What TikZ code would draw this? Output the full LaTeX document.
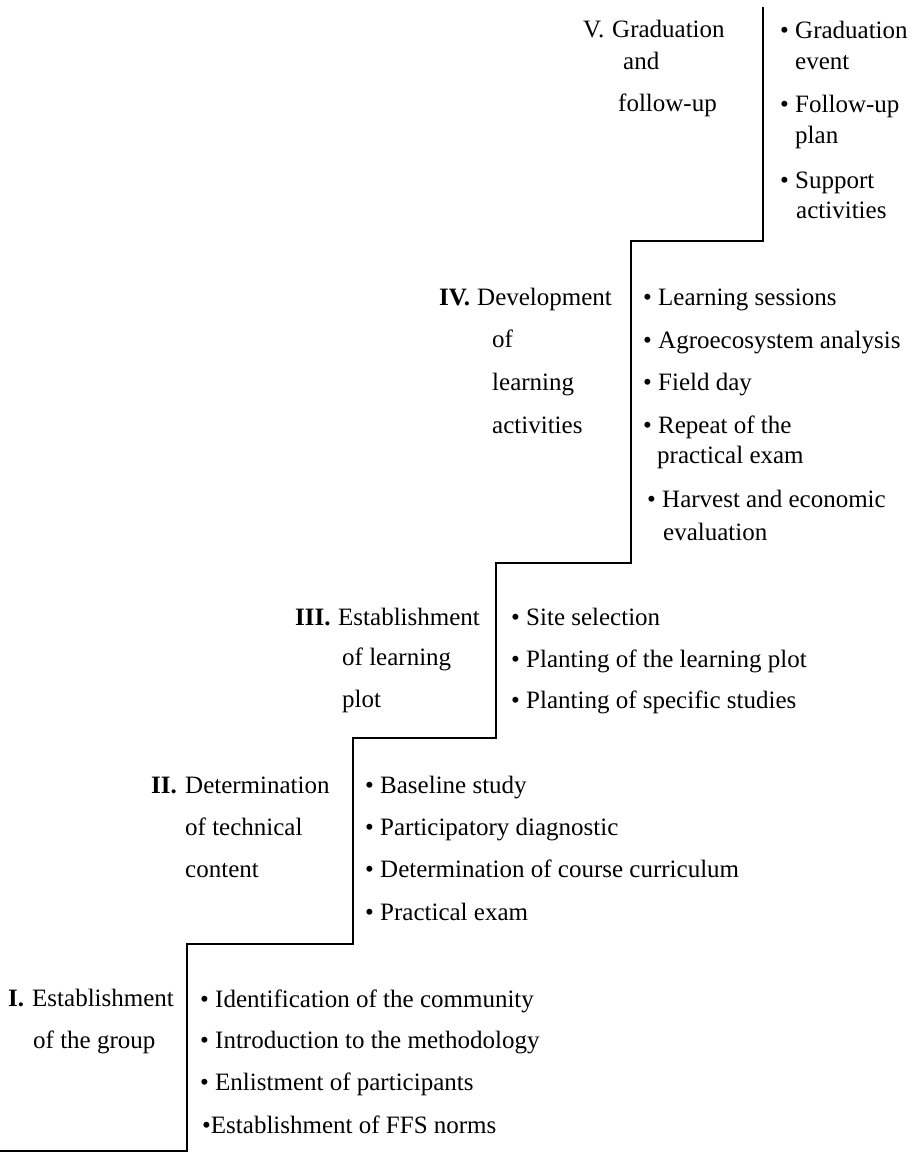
\documentclass[tikz,border=0pt]{standalone}
\usepackage{fontspec}
\setmainfont{Liberation Serif}
\begin{document}
\begin{tikzpicture}[x=1pt,y=-1pt,
  txt/.style={inner sep=0pt,anchor=base west,font=\fontsize{25}{30}\selectfont},
  num/.style={txt,font=\fontsize{25}{30}\selectfont\bfseries},
  stair/.style={line width=1.9pt,line join=miter}]
\useasboundingbox (0,0) rectangle (920,1153);
% staircase
\coordinate (s0) at (0,1151);
\coordinate (s1) at (187,1151);
\coordinate (s2) at (187,944);
\coordinate (s3) at (353,944);
\coordinate (s4) at (353,738);
\coordinate (s5) at (496,738);
\coordinate (s6) at (496,563);
\coordinate (s7) at (631,563);
\coordinate (s8) at (631,241);
\coordinate (s9) at (763,241);
\coordinate (s10) at (763,7);
\draw[stair] (s0) -- (s1) -- (s2) -- (s3) -- (s4) -- (s5) -- (s6) -- (s7) -- (s8) -- (s9) -- (s10);
% Step V
\node[txt] (vn) at (583,38) {V.};
\node[txt] (v1) at (612,38) {Graduation};
\node[txt] (v2) at (623,70) {and};
\node[txt] (v3) at (618,112) {follow-up};
\node[txt] (vb1) at (780,39) {\textbullet\ Graduation};
\node[txt] (vb1b) at (795,70) {event};
\node[txt] (vb2) at (780,113) {\textbullet\ Follow-up};
\node[txt] (vb2b) at (795,143) {plan};
\node[txt] (vb3) at (780,188) {\textbullet\ Support};
\node[txt] (vb3b) at (796,218) {activities};
% Step IV
\node[num] (ivn) at (439,305) {IV.};
\node[txt] (iv1) at (477,305) {Development};
\node[txt] (iv2) at (492,347) {of};
\node[txt] (iv3) at (492,390) {learning};
\node[txt] (iv4) at (492,433) {activities};
\node[txt] (ivb1) at (643,305) {\textbullet\ Learning sessions};
\node[txt] (ivb2) at (643,348) {\textbullet\ Agroecosystem analysis};
\node[txt] (ivb3) at (643,390) {\textbullet\ Field day};
\node[txt] (ivb4) at (643,433) {\textbullet\ Repeat of the};
\node[txt] (ivb4b) at (657,463) {practical exam};
\node[txt] (ivb5) at (647,507) {\textbullet\ Harvest and economic};
\node[txt] (ivb5b) at (663,540) {evaluation};
% Step III
\node[num] (iiin) at (295,625) {III.};
\node[txt] (iii1) at (338,625) {Establishment};
\node[txt] (iii2) at (342,665) {of learning};
\node[txt] (iii3) at (342,707) {plot};
\node[txt] (iiib1) at (511,625) {\textbullet\ Site selection};
\node[txt] (iiib2) at (511,667) {\textbullet\ Planting of the learning plot};
\node[txt] (iiib3) at (511,708) {\textbullet\ Planting of specific studies};
% Step II
\node[num] (iin) at (151,793) {II.};
\node[txt] (ii1) at (185,793) {Determination};
\node[txt] (ii2) at (185,835) {of technical};
\node[txt] (ii3) at (185,877) {content};
\node[txt] (iib1) at (365,793) {\textbullet\ Baseline study};
\node[txt] (iib2) at (365,835) {\textbullet\ Participatory diagnostic};
\node[txt] (iib3) at (365,877) {\textbullet\ Determination of course curriculum};
\node[txt] (iib4) at (365,920) {\textbullet\ Practical exam};
% Step I
\node[num] (in) at (8,1006) {I.};
\node[txt] (i1) at (32,1006) {Establishment};
\node[txt] (i2) at (33,1048) {of the group};
\node[txt] (ib1) at (200,1007) {\textbullet\ Identification of the community};
\node[txt] (ib2) at (200,1048) {\textbullet\ Introduction to the methodology};
\node[txt] (ib3) at (200,1090) {\textbullet\ Enlistment of participants};
\node[txt] (ib4) at (202,1133) {\textbullet Establishment of FFS norms};
\end{tikzpicture}
\end{document}
